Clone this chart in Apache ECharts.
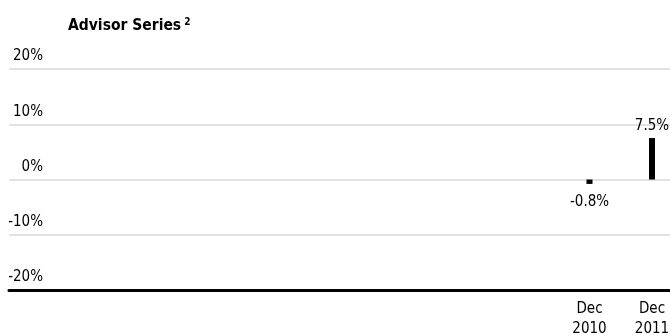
<!DOCTYPE html>
<html>
<head>
<meta charset="utf-8">
<script src="https://cdn.jsdelivr.net/npm/echarts@6/dist/echarts.min.js"></script>
<style>
  html, body { margin: 0; padding: 0; background: #fff; }
  #chart { width: 670px; height: 335px; }
</style>
</head>
<body>
<div id="chart"></div>
<script>
// Calendar-year returns, Advisor Series (%)
const categories = ['', '', '', '', '', '', '', '', 'Dec\n2010', 'Dec\n2011'];
const returns = [null, null, null, null, null, null, null, null, -0.8, 7.5];
const yTicks = { min: -20, max: 20, interval: 10 };
const titleText = 'Advisor Series';
const footnote = '2';

const FONT = "'Liberation Sans Narrow', 'DejaVu Sans Condensed', 'Roboto', sans-serif";

const chart = echarts.init(document.getElementById('chart'), null, { renderer: 'canvas' });

const barData = returns.map(v => v === null ? null : {
  value: v,
  label: v < 0
    ? { position: 'bottom', distance: 11 }
    : { position: 'top', distance: 4 }
});

chart.setOption({
  animation: false,
  backgroundColor: '#fff',
  title: {
    text: '{t|' + titleText + '}{s|' + footnote + '}',
    left: 63,
    top: 12,
    textStyle: {
      rich: {
        t: { fontFamily: FONT, fontWeight: 'bold', fontSize: 15.5, color: '#000' },
        s: { fontFamily: FONT, fontWeight: 'bold', fontSize: 10, color: '#000', verticalAlign: 'top', padding: [0, 0, 8, 3] }
      }
    }
  },
  grid: [
    // full-width grid carrying the gridlines, value labels and base line
    { left: 9, right: 0, top: 69, bottom: 45, outerBoundsMode: 'none' },
    // category grid for the bars (ticks on category centres)
    { left: 89.5, right: 18, top: 69, bottom: 45, outerBoundsMode: 'none' }
  ],
  xAxis: [
    {
      gridIndex: 0, type: 'category', data: categories,
      axisLine: { onZero: false, lineStyle: { color: '#000', width: 3 } },
      axisTick: { show: false }, axisLabel: { show: false }
    },
    {
      gridIndex: 1, type: 'category', data: categories, boundaryGap: false,
      axisLine: { show: false }, axisTick: { show: false },
      axisLabel: {
        fontFamily: FONT, fontSize: 15, color: '#000',
        lineHeight: 20, margin: 9, interval: 0
      }
    }
  ],
  yAxis: [
    {
      gridIndex: 0, type: 'value',
      min: yTicks.min, max: yTicks.max, interval: yTicks.interval,
      axisLine: { show: false }, axisTick: { show: false },
      splitLine: { lineStyle: { color: '#d9d9d9', width: 1.5 } },
      axisLabel: {
        inside: true, align: 'right', margin: 34, verticalAlign: 'bottom',
        padding: [0, 0, 5, 0],
        fontFamily: FONT, fontSize: 15, color: '#000',
        formatter: v => v + '%'
      }
    },
    {
      gridIndex: 1, type: 'value',
      min: yTicks.min, max: yTicks.max, interval: yTicks.interval,
      show: false, splitLine: { show: false }
    }
  ],
  series: [{
    type: 'bar',
    xAxisIndex: 1, yAxisIndex: 1,
    data: barData,
    barWidth: 6,
    itemStyle: { color: '#000' },
    label: {
      show: true,
      fontFamily: FONT, fontSize: 15, color: '#000',
      formatter: p => p.value.toFixed(1) + '%'
    }
  }]
});
</script>
</body>
</html>
